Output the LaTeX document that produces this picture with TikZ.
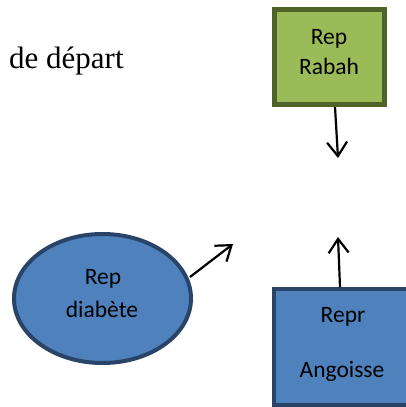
\documentclass[tikz,border=0pt]{standalone}
\usepackage{fontspec}
\setmainfont{Liberation Serif}
\newfontfamily\calib{Carlito}
\usetikzlibrary{arrows.meta,shapes.geometric}
\definecolor{leaf}{HTML}{9BBB59}
\definecolor{leafdark}{HTML}{4F6228}
\definecolor{sky}{HTML}{4F81BD}
\definecolor{navy}{HTML}{2A4468}
\begin{document}
\begin{tikzpicture}[x=1pt,y=-1pt,
  greenbox/.style={rectangle,draw=leafdark,fill=leaf,line width=5pt,inner sep=0pt},
  bluebox/.style={rectangle,draw=navy,fill=sky,line width=4pt,inner sep=0pt},
  blueoval/.style={ellipse,draw=navy,fill=sky,line width=4pt,inner sep=0pt},
  lbl/.style={font=\calib\fontsize{23.5}{30}\selectfont,text=black,inner sep=0pt,anchor=base},
  link/.style={line width=2.2pt,-{Straight Barb[length=14pt,width=20pt,line width=2.2pt]}}]
\useasboundingbox (0,0) rectangle (406,407);
\begin{scope}
\clip (0,0) rectangle (406,407);
% caption fragment
\node[font=\fontsize{31}{35}\selectfont,inner sep=0pt,anchor=base west] (caption) at (9,68) {de départ};
% top green box
\node[greenbox,minimum width=110pt,minimum height=95pt] (rabah) at (329.5,57) {};
\node[lbl] (rabah1) at (329,44) {Rep};
\node[lbl] (rabah2) at (329,74) {Rabah};
% ellipse on the left
\node[blueoval,minimum width=177pt,minimum height=129pt] (diab) at (102.5,298.5) {};
\node[lbl] (diab1) at (103,284) {Rep};
\node[lbl] (diab2) at (102,317) {diabète};
% bottom right box, running off the edge
\node[bluebox,minimum width=142pt,minimum height=116pt] (angoisse) at (345,347) {};
\node[lbl] (ang1) at (343,322) {Repr};
\node[lbl] (ang2) at (342,377) {Angoisse};
% free arrow ends
\coordinate (downend) at (338,158);
\coordinate (diagend) at (233,244);
\coordinate (upend) at (338,237);
\draw[link] (rabah.south -| 335,0) -- (downend);
\draw[link] (190,277) -- (diagend);
\draw[link] (angoisse.north -| 340,0) -- (upend);
\end{scope}
\end{tikzpicture}
\end{document}
